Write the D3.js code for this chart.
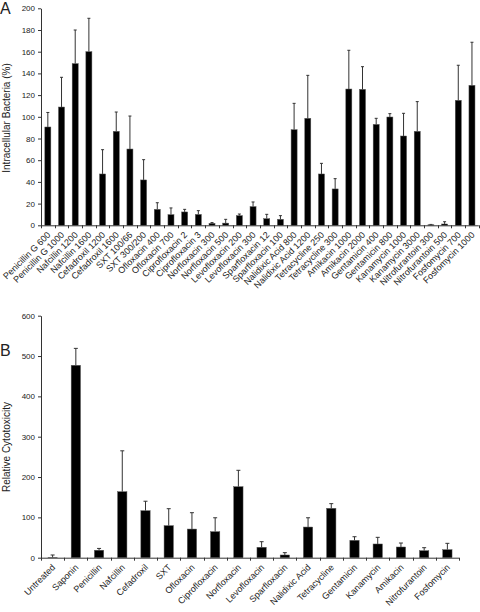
<!DOCTYPE html>
<html><head><meta charset="utf-8">
<script src="https://cdn.jsdelivr.net/npm/d3@7"></script>
<style>
body{margin:0;background:#fff;}
text{font-family:"Liberation Sans",Arial,sans-serif;fill:#222;}
</style></head>
<body><svg id="c" width="480" height="612"></svg>
<script>
const catsA = ["Penicillin G 600","Penicillin G 1000","Nafcillin 1200","Nafcillin 1600","Cefadroxil 1200","Cefadroxil 1600","SXT 100/66","SXT 300/200","Ofloxacin 400","Ofloxacin 700","Ciprofloxacin 2","Ciprofloxacin 3","Norfloxacin 300","Norfloxacin 500","Levofloxacin 200","Levofloxacin 300","Sparfloxacin 12","Sparfloxacin 100","Nalidixic Acid 800","Nalidixic Acid 1200","Tetracycline 250","Tetracycline 300","Amikacin 1000","Amikacin 2000","Gentamicin 400","Gentamicin 800","Kanamycin 1000","Kanamycin 3000","Nitrofurantoin 300","Nitrofurantoin 500","Fosfomycin 700","Fosfomycin 1000"];
const valsA = [90.6,109,149,160,47.3,86.6,70.3,41.8,14.7,9.8,12.3,10,1.8,2,8.9,17.2,6.1,5.5,88.1,98.6,47.3,33.5,125.6,125.3,93,99.8,82.3,86.6,0.5,1.2,115.2,129];
const errA = [104,136.4,180,190.8,69.7,104.4,100.7,60.5,20.8,16,14.7,13.5,2.5,5.5,10.4,21.5,10.1,8.9,112.4,138.2,57.1,43,161.3,146.2,98.6,102.9,103.2,114,0.8,3.3,147.5,168.7];
const ticksA = [0,20,40,60,80,100,120,140,160,180,200];

const catsB = ["Untreated","Saponin","Penicillin","Nafcillin","Cefadroxil","SXT","Ofloxacin","Ciprofloxacin","Norfloxacin","Levofloxacin","Sparfloxacin","Nalidixic Acid","Tetracycline","Gentamicin","Kanamycin","Amikacin","Nitrofurantoin","Fosfomycin"];
const valsB = [0.8,477,18.5,163.6,116.5,79.4,71,64.5,176,25.8,6.7,76,122.4,43,34,26.5,17.4,19.8];
const errB = [6.7,519,23,265,140,121.5,111.6,99,216.7,39.7,12.5,99,134,52,50.5,36.4,24.8,35.6];
const ticksB = [0,100,200,300,400,500,600];

const svg = d3.select("#c");

function panel(cfg){
  const g = svg.append("g");
  const x = d3.scaleBand().domain(cfg.cats).range(cfg.xr).paddingInner(cfg.pad).paddingOuter(cfg.pad/2);
  const y = d3.scaleLinear().domain([0,cfg.ymax]).range(cfg.yr);
  // y axis
  const ya = g.append("g").attr("transform",`translate(${cfg.xr[0]},0)`)
    .call(d3.axisLeft(y).tickValues(cfg.ticks).tickSize(3).tickSizeOuter(0).tickPadding(3));
  ya.select(".domain").attr("stroke","#333");
  ya.selectAll(".tick line").attr("stroke","#333");
  ya.selectAll("text").style("font-size","8px").attr("fill","#222");
  // x axis line
  g.append("line").attr("x1",cfg.xr[0]).attr("x2",cfg.xr[1]).attr("y1",cfg.yr[0]+0.5).attr("y2",cfg.yr[0]+0.5).attr("stroke","#333");
  const step = x.step();
  const bounds = d3.range(cfg.cats.length+1).map(i=>cfg.xr[0]+i*step);
  g.selectAll(".xt").data(bounds).join("line").attr("x1",d=>Math.round(d)+0.5).attr("x2",d=>Math.round(d)+0.5)
    .attr("y1",cfg.yr[0]).attr("y2",cfg.yr[0]+3).attr("stroke","#333");
  // error bars
  const bw = x.bandwidth();
  const eb = g.selectAll(".eb").data(cfg.cats).join("g");
  eb.append("line").attr("x1",d=>x(d)+bw/2).attr("x2",d=>x(d)+bw/2)
    .attr("y1",(d,i)=>y(cfg.vals[i])).attr("y2",(d,i)=>y(cfg.err[i])).attr("stroke","#333").attr("stroke-width",1);
  eb.append("line").attr("x1",d=>x(d)+bw/2-cfg.cap).attr("x2",d=>x(d)+bw/2+cfg.cap)
    .attr("y1",(d,i)=>y(cfg.err[i])).attr("y2",(d,i)=>y(cfg.err[i])).attr("stroke","#333").attr("stroke-width",1);
  // bars
  g.selectAll(".bar").data(cfg.cats).join("rect")
    .attr("x",d=>x(d)).attr("width",bw)
    .attr("y",(d,i)=>y(cfg.vals[i])).attr("height",(d,i)=>y(0)-y(cfg.vals[i]))
    .attr("fill","#000").attr("stroke","#555").attr("stroke-width",0.5);
  // x labels
  g.selectAll(".xl").data(cfg.cats).join("text")
    .attr("transform",d=>`translate(${x(d)+bw/2+cfg.lx},${cfg.yr[0]+cfg.ly}) rotate(-45)`)
    .attr("text-anchor","end").attr("dy","0.35em").style("font-size",cfg.fs+"px").text(d=>d);
  // y title
  g.append("text").attr("transform",`translate(${cfg.tx},${cfg.ty}) rotate(-90)`)
    .attr("text-anchor","middle").style("font-size","10px").text(cfg.title);
  g.append("text").attr("x",0).attr("y",cfg.ply).style("font-size","16px").text(cfg.pl);
}

panel({cats:catsA,vals:valsA,err:errA,ticks:ticksA,ymax:200,xr:[41,478.8],yr:[225.3,8.3],pad:0.56,cap:1.5,
  lx:1,ly:8,fs:9,title:"Intracellular Bacteria (%)",tx:10,ty:118,pl:"A",ply:14});
panel({cats:catsB,vals:valsB,err:errB,ticks:ticksB,ymax:600,xr:[41,459],yr:[557.7,315.7],pad:0.6,cap:2,
  lx:1,ly:8,fs:9,title:"Relative Cytotoxicity",tx:10,ty:447,pl:"B",ply:356});
</script></body></html>
